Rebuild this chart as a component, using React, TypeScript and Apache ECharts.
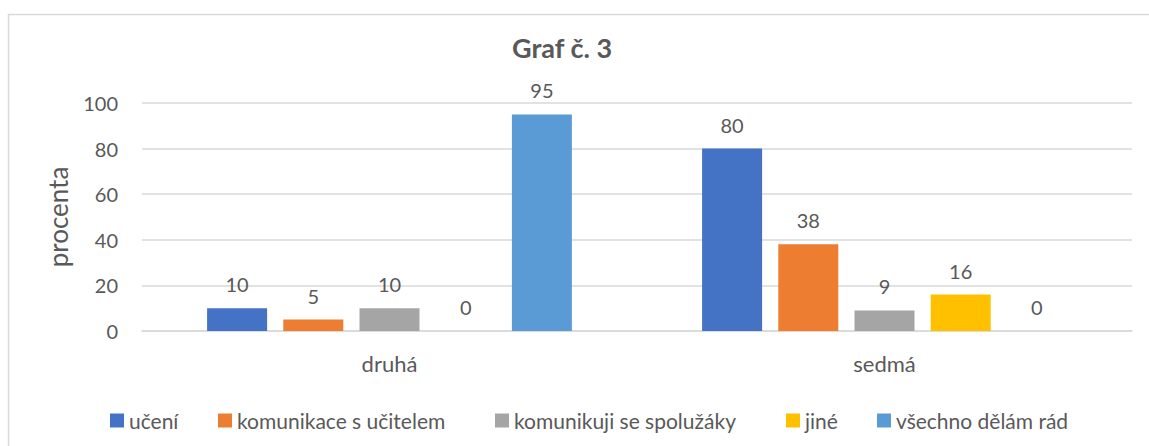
import React, { useEffect, useRef } from "react";
import * as echarts from "echarts";

const categories = ["druhá", "sedmá"];
const seriesNames = ["učení", "komunikace s učitelem", "komunikuji se spolužáky", "jiné", "všechno dělám rád"];
const uceni = [10, 80];
const komunikaceUcitel = [5, 38];
const komunikaceSpoluzaci = [10, 9];
const jine = [0, 16];
const vsechno = [95, 0];
const colors = ["#4472C4", "#ED7D31", "#A5A5A5", "#FFC000", "#5B9BD5"];
const yTicks = { min: 0, max: 100, interval: 20 };
const legendLefts = [105, 213, 490, 781, 872];

const FONT = "Lato";
const TEXT = "#595959";

export default function App() {
  const ref = useRef<HTMLDivElement>(null);
  useEffect(() => {
    const chart = echarts.init(ref.current!, null, { renderer: "svg" });
    const data = [uceni, komunikaceUcitel, komunikaceSpoluzaci, jine, vsechno];
    chart.setOption({
      animation: false,
      textStyle: { fontFamily: FONT, color: TEXT },
      title: {
        text: "Graf č. 3",
        left: 507,
        top: 29,
        textStyle: { fontFamily: FONT, fontWeight: "bold", fontSize: 27, color: TEXT },
      },
      graphic: [
        {
          type: "rect",
          shape: { x: 8.5, y: 14.5, width: 1160, height: 460 },
          style: { fill: "none", stroke: "#D9D9D9", lineWidth: 1.5 },
          silent: true,
        },
      ],
      legend: seriesNames.map((name, i) => ({
        data: [name],
        left: legendLefts[i],
        top: 405,
        itemWidth: 14,
        itemHeight: 14,
        icon: "rect",
        textStyle: { fontFamily: FONT, fontSize: 21, color: TEXT },
      })),
      grid: { left: 142, right: 17, top: 103, bottom: 115 },
      xAxis: {
        type: "category",
        data: categories,
        axisLine: { lineStyle: { color: "#D9D9D9", width: 1.5 } },
        axisTick: { show: false },
        axisLabel: { fontFamily: FONT, fontSize: 22, color: TEXT, margin: 21 },
      },
      yAxis: {
        type: "value",
        min: yTicks.min,
        max: yTicks.max,
        interval: yTicks.interval,
        name: "procenta",
        nameLocation: "middle",
        nameGap: 71,
        nameRotate: 90,
        nameTextStyle: { fontFamily: FONT, fontSize: 26, color: TEXT },
        axisLine: { show: false },
        axisTick: { show: false },
        axisLabel: { fontFamily: FONT, fontSize: 20, color: TEXT, margin: 24 },
        splitLine: { lineStyle: { color: "#D9D9D9", width: 1.5 } },
      },
      series: seriesNames.map((name, i) => ({
        name,
        type: "bar",
        data: data[i],
        barWidth: 60,
        barGap: "27%",
        itemStyle: { color: colors[i] },
        label: {
          show: true,
          position: "top",
          distance: 14,
          fontFamily: FONT,
          fontSize: 20,
          color: TEXT,
        },
      })),
    });
    return () => chart.dispose();
  }, []);
  return (
    <div
      ref={ref}
      style={{ position: "fixed", left: 0, top: 0, width: 1149, height: 446, background: "#fff" }}
    />
  );
}
